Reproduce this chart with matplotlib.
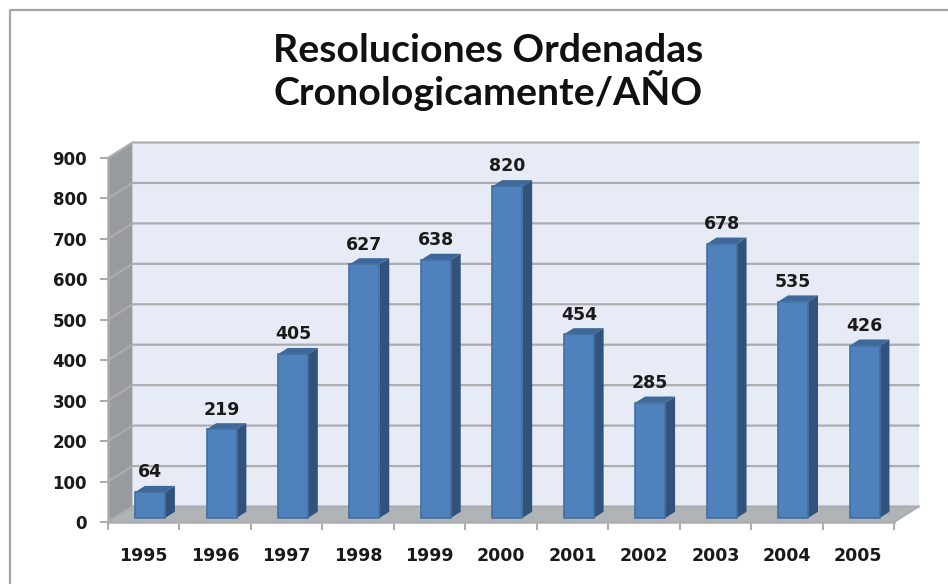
import numpy as np
import matplotlib
matplotlib.use("Agg")
import matplotlib.pyplot as plt
from matplotlib.patches import Polygon
from matplotlib.lines import Line2D

# ========= data =========
years = ["1995", "1996", "1997", "1998", "1999", "2000", "2001", "2002", "2003", "2004", "2005"]
values = [64, 219, 405, 627, 638, 820, 454, 285, 678, 535, 426]
y_ticks = [0, 100, 200, 300, 400, 500, 600, 700, 800, 900]
title = "Resoluciones Ordenadas\nCronologicamente/AÑO"

# ========= colours =========
WALL = "#e7ebf5"
SIDE_WALL = "#979b9f"
FLOOR = "#b1b4b7"
GRID = "#abadb0"
BAR = "#4f81bd"
BAR_EDGE = "#44709f"
BAR_SIDE = "#30527c"
BAR_TOP = "#3d6899"
TEXT = "#1a1a1a"

W, H = 948, 584
fig = plt.figure(figsize=(W / 100, H / 100), dpi=100)

# front plane of the fake 3d box, in pixels
left, right, y0, y900 = 108, 894, 522, 158
ax = fig.add_axes([left / W, 1 - y0 / H, (right - left) / W, (y0 - y900) / H])
n = len(years)
ax.set_xlim(0, n)
ax.set_ylim(0, 900)
ax.patch.set_visible(False)

# depth of the box in data units
dx = 24.5 / ((right - left) / n)
dy = 15.5 / ((y0 - y900) / 900)

ax.add_patch(Polygon([(dx, dy), (n + dx, dy), (n + dx, 900 + dy), (dx, 900 + dy)],
                     fc=WALL, ec="none", zorder=1, clip_on=False))
ax.add_patch(Polygon([(0, 0), (dx, dy), (dx, 900 + dy), (0, 900)],
                     fc=SIDE_WALL, ec="none", zorder=1, clip_on=False))
ax.add_patch(Polygon([(0, 0), (n, 0), (n + dx, dy), (dx, dy)],
                     fc=FLOOR, ec="none", zorder=1, clip_on=False))

for t in y_ticks:
    ax.add_line(Line2D([0, dx, n + dx], [t, t + dy, t + dy], color=GRID, lw=1.6, zorder=2,
                       clip_on=False))
ax.add_line(Line2D([n, n + dx], [0, dy], color=GRID, lw=1.6, zorder=2, clip_on=False))

# bars stand a little way into the floor
shift = 0.26
x = np.arange(n) + 0.5 + shift * dx
bw = 0.42
base = shift * dy
side_x = 0.4 * dx
side_y = 0.4 * dy
ax.bar(x, values, width=bw, bottom=base, color=BAR, edgecolor=BAR_EDGE, linewidth=1.2, zorder=4)
for xi, v in zip(x, values):
    xl, xr = xi - bw / 2, xi + bw / 2
    top = base + v
    ax.add_patch(Polygon([(xr, base), (xr + side_x, base + side_y), (xr + side_x, top + side_y), (xr, top)],
                         fc=BAR_SIDE, ec="none", zorder=3))
    ax.add_patch(Polygon([(xl, top), (xl + side_x, top + side_y), (xr + side_x, top + side_y), (xr, top)],
                         fc=BAR_TOP, ec="none", zorder=3))
    ax.text(xi, v + 59, str(v), ha="center", va="center", fontsize=12.5, fontweight="bold",
            family="DejaVu Sans", color=TEXT, zorder=6)

# axes
for name, sp in ax.spines.items():
    sp.set_visible(name in ("left", "bottom"))
    sp.set_color(GRID)
    sp.set_linewidth(1.8)
    sp.set_zorder(3)
ax.set_yticks(y_ticks)
ax.set_xticks(np.arange(n + 1))
ax.set_xticklabels([])
ax.set_xticks(np.arange(n) + 0.5, minor=True)
ax.set_xticklabels(years, minor=True)
ax.tick_params(axis="x", which="major", length=6, width=1.5, color=GRID)
ax.tick_params(axis="x", which="minor", length=0, pad=18, labelsize=12.5, labelcolor=TEXT)
ax.tick_params(axis="y", length=6, width=1.5, color=GRID, pad=9, labelsize=12, labelcolor=TEXT)
for lab in ax.get_xticklabels(minor=True) + ax.get_yticklabels():
    lab.set_fontweight("bold")

# outer chart frame
fig.add_artist(Line2D([10 / W, 10 / W, 1], [0, 1 - 10 / H, 1 - 10 / H], color="#a6a6a6", lw=1.6))

fig.text(488 / W, 1 - 72 / H, title, ha="center", va="center", fontsize=28.3, fontweight="bold",
         family="Lato", color="#111111", linespacing=1.05)

fig.savefig("out.png", dpi=100)
